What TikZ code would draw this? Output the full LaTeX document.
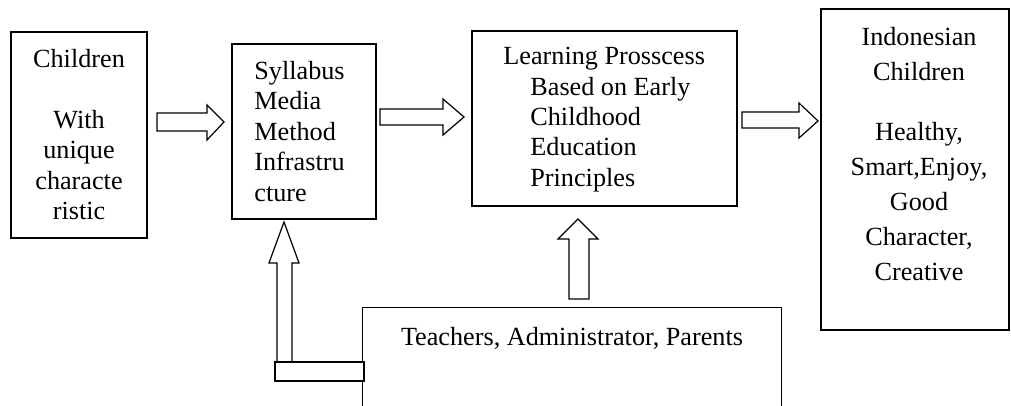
\documentclass[tikz,border=0pt]{standalone}
\usepackage{fontspec}
\setmainfont{Liberation Serif}
\usepackage{tikz}

\begin{document}
\begin{tikzpicture}[x=0.5pt, y=-0.5pt,
    box/.style={draw, line width=0.6pt, inner sep=0pt},
    boxtext/.style={inner sep=0pt, font=\fontsize{13.1}{15.2}\selectfont},
    blockarrow/.style={draw, line width=0.6pt, line join=miter, fill=white}]
  \useasboundingbox (0,0) rectangle (1011,406);
  % boxes
  \node[box, minimum width=68pt, minimum height=103pt] (children) at (79,135) {};
  \node[box, minimum width=72pt, minimum height=87.5pt] (syllabus) at (304,131.5) {};
  \node[box, minimum width=132.5pt, minimum height=87.5pt] (learning) at (604.5,118.5) {};
  \node[box, minimum width=94pt, minimum height=160.5pt] (result) at (915,169.5) {};
  \node[inner sep=0pt, minimum width=209pt, minimum height=49pt] (staff) at (572,357) {};
  \draw[line width=0.6pt] (staff.south west) |- (staff.north) -| (staff.south east);
  % texts
  \node[boxtext, align=center, anchor=north] (childrentext) at (79,49)
    {Children\\[15.2pt] With\\ unique\\ characte\\ ristic};
  \node[boxtext, align=left, anchor=north west] (syllabustext) at (254,61)
    {Syllabus\\ Media\\ Method\\ Infrastru\\ cture};
  \node[boxtext, align=left, anchor=north west] (learningtext) at (503,47)
    {Learning Prosscess\\ \hspace*{13.5pt}Based on Early\\ \hspace*{13.5pt}Childhood\\
     \hspace*{13.5pt}Education\\ \hspace*{13.5pt}Principles};
  \node[boxtext, align=center, anchor=north, font=\fontsize{13.1}{17.5}\selectfont] (resulttext) at (919,27)
    {Indonesian\\ Children\\[12.5pt] Healthy,\\ Smart,Enjoy,\\ Good\\ Character,\\ Creative};
  \node[boxtext, anchor=base] (stafftext) at (572,345) {Teachers, Administrator, Parents};
  % block arrows
  \draw[blockarrow] (157,113) -- (207,113) -- (207,105) -- (224,122) -- (207,140) -- (207,131) -- (157,131) -- cycle;
  \draw[blockarrow] (380,109) -- (443,109) -- (443,99) -- (464,117) -- (443,135) -- (443,125) -- (380,125) -- cycle;
  \draw[blockarrow] (742,112) -- (799,112) -- (799,103) -- (818,121) -- (799,138) -- (799,128) -- (742,128) -- cycle;
  \draw[blockarrow] (569,299) -- (569,239) -- (558,239) -- (578,219) -- (598,239) -- (589,239) -- (589,299) -- cycle;
  \draw[blockarrow] (277,362) -- (277,263) -- (269,263) -- (284,222) -- (299,263) -- (292,263) -- (292,362);
  \draw[blockarrow] (275,362) rectangle (364,381);
\end{tikzpicture}
\end{document}
